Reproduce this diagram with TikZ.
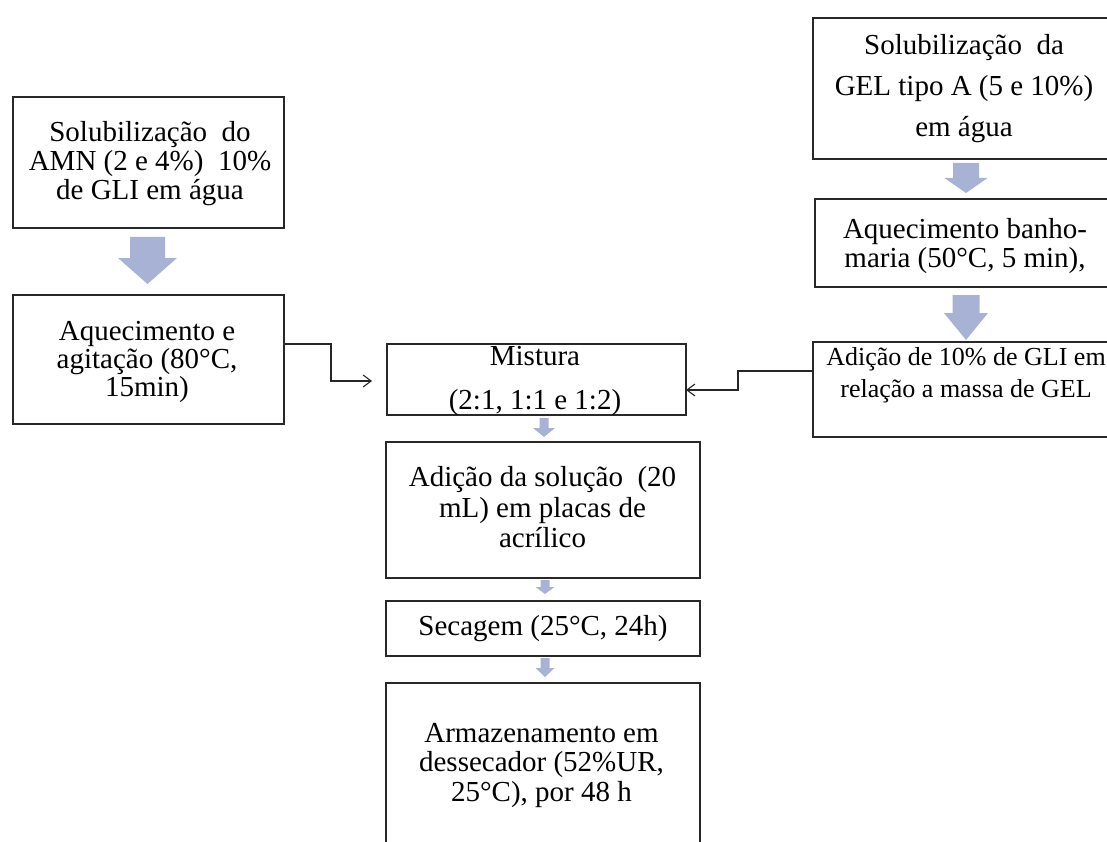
\documentclass[tikz,border=0pt]{standalone}
\usepackage{fontspec}
\setmainfont{Liberation Serif}
\usetikzlibrary{arrows.meta}
\definecolor{framegray}{RGB}{40,40,40}
\definecolor{arrowblue}{RGB}{168,178,212}
% downward block arrow: centre x, top, start of head, tip, half shaft width, half head width
\newcommand\flowarrow[6]{%
  \fill[arrowblue] (#1-#5,#2) -- (#1+#5,#2) -- (#1+#5,#3) -- (#1+#6,#3)
    -- (#1,#4) -- (#1-#6,#3) -- (#1-#5,#3) -- cycle;}
\tikzset{
  frame/.style={draw=framegray, line width=1.6pt, inner sep=0pt, outer sep=0pt, fill=none},
  label/.style={align=center, inner sep=0pt, text=black,
    font=\fontsize{29}{#1}\selectfont},
  label/.default=29,
  conn/.style={draw=black!85, line width=1.1pt, -{Straight Barb[length=8pt,width=12pt,line width=1.1pt]}},
}
\begin{document}
\begin{tikzpicture}[x=1pt,y=-1pt]
\clip (0,0) rectangle (1107,842);

% left column
\node[frame, minimum width=271, minimum height=131] (b1) at (148.5,162.5) {};
\node[label=29] (t1) at (150,164) {Solubilização\ \ do\\AMN (2 e 4\%)\ \ 10\%\\de GLI em água};
\node[frame, minimum width=271, minimum height=129] (b2) at (148.5,359.5) {};
\node[label=28] (t2) at (147,362) {Aquecimento e\\agitação (80°C,\\15min)};

% right column
\node[frame, minimum width=302, minimum height=141] (r1) at (964,88.5) {};
\node[label=41] (tr1) at (964,89) {Solubilização\ \ da\\GEL tipo A (5 e 10\%)\\em água};
\node[frame, minimum width=300, minimum height=88] (r2) at (965,243) {};
\node[label=29.5] (tr2) at (965,246) {Aquecimento banho-\\maria (50°C, 5 min),};
\node[frame, minimum width=302, minimum height=95] (r3) at (964,389.5) {};
\node[align=center, inner sep=0pt, font=\fontsize{26}{32}\selectfont] (tr3) at (966,375)
  {Adição de 10\% de GLI em\\relação a massa de GEL};

% centre column
\node[frame, minimum width=299, minimum height=71] (mix) at (536.5,379.5) {};
\node[label=44] (tm) at (535,381) {Mistura\\(2:1, 1:1 e 1:2)};
\node[frame, minimum width=314, minimum height=136] (add) at (543,510) {};
\node[label=30.5] (ta) at (542.5,507.5) {Adição da solução\ \ (20\\mL) em placas de\\acrílico};
\node[frame, minimum width=314, minimum height=55, font=\fontsize{29}{29}\selectfont] (sec) at (543,628.5) {Secagem (25°C, 24h)};
\node[frame, minimum width=314, minimum height=177] (arm) at (543,771.5) {};
\node[label=29.5] (tarm) at (541.5,765.5) {Armazenamento em\\dessecador (52\%UR,\\25°C), por 48 h};

% block arrows between steps
\flowarrow{147.5}{237}{258}{284}{17.5}{29.5}
\flowarrow{966}{163}{178}{193}{13}{21.5}
\flowarrow{966}{295}{313}{340}{13.5}{22}
\flowarrow{544}{418}{428}{437}{4.5}{11}
\flowarrow{545}{580}{587}{594}{4.5}{9.5}
\flowarrow{545}{658}{668}{677}{4.5}{9.5}

% elbow connectors into the mixing step
\draw[conn] ([yshift=15.5pt]b2.east) -- ++(47,0) |- ([xshift=-15pt,yshift=-1.5pt]mix.west);
\draw[conn] ([yshift=18.5pt]r3.west) -- ++(-75,0) |- ([yshift=-10.5pt]mix.east);
\end{tikzpicture}
\end{document}
